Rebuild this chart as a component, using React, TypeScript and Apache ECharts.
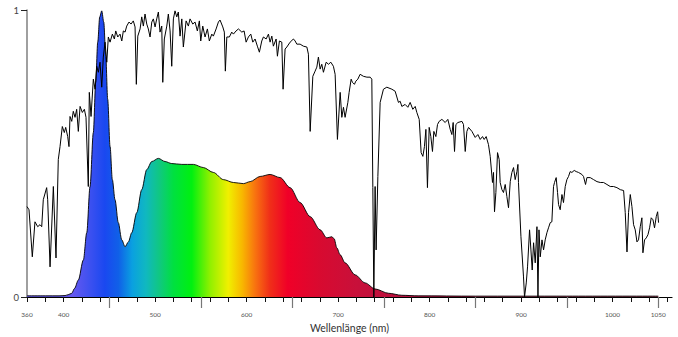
import React, { useEffect, useRef } from "react";
import * as echarts from "echarts";

// x-axis tick positions (nm)
const xLabelValues = [360, 400, 500, 600, 700, 800, 900, 1000, 1050];
const xMinorTicks = [360, 380, 400, 420, 440, 460, 480, 500, 520, 540, 560, 580, 600, 620, 640, 660, 680, 700, 720, 740, 760, 780, 800, 820, 840, 860, 880, 900, 920, 940, 960, 980, 1000, 1020, 1040, 1060];
const xMajorTicks = [450, 550, 650, 750, 850, 950, 1050];

// Solar spectrum (relative intensity), [wavelength nm, value]
const solarSpectrum: [number, number][] = [
  [360,0.315],[362.2,0.304],[365.8,0.14],[368.7,0.262],[371.7,0.245],[374.2,0.252],[376.1,0.245],[377.8,0.339],[381.5,0.381],[382.6,0.339],[385.2,0.105],[388.8,0.385],[391.7,0.136],[394.2,0.479],[396.1,0.524],[398.6,0.594],[400.8,0.573],[402.3,0.591],[404.5,0.559],[405.9,0.524],[407,0.629],[408.9,0.612],[410.6,0.647],[412.5,0.626],[414.3,0.654],[416.1,0.577],[418,0.664],[420.5,0.643],[422.7,0.654],[424.5,0.626],[427,0.385],[428.1,0.713],[430,0.629],[432.5,0.759],[434.4,0.724],[436.2,0.804],[438,0.783],[439.8,0.818],[441.7,0.731],[443.4,0.836],[445.3,0.888],[447.2,0.818],[448.9,0.906],[450.8,0.888],[453.3,0.916],[455.5,0.899],[457,0.927],[459.2,0.906],[461.7,0.916],[463.6,0.892],[465.3,0.927],[467.2,0.923],[469,0.944],[471.5,0.958],[473.7,0.951],[476.2,0.962],[478.1,0.941],[479.5,0.741],[481.1,0.909],[483.6,0.934],[485.4,0.976],[487.2,0.944],[489,0.986],[490.9,0.951],[492.6,0.934],[494.5,0.906],[496.4,0.958],[498.1,0.969],[500,0.941],[501.8,0.969],[503.6,0.993],[505.4,0.923],[507.3,0.944],[508.4,0.748],[510.1,0.899],[512.8,0.944],[514.5,0.986],[516.4,0.927],[518.2,0.804],[520,0.969],[521.8,0.997],[523.7,0.976],[525.4,0.993],[527.3,0.909],[529.2,0.969],[530.9,0.871],[533.9,0.962],[536.4,0.944],[538.2,0.969],[541.2,0.951],[543.7,0.958],[546.2,0.927],[548.4,0.962],[549.9,0.892],[552.1,0.944],[554.6,0.906],[557.2,0.934],[559.3,0.892],[562,0.916],[563.7,0.909],[566.7,0.934],[569.2,0.958],[571,0.965],[574,0.941],[575.7,0.923],[576.8,0.787],[578.4,0.906],[581.2,0.906],[583.8,0.923],[585.6,0.916],[588.5,0.927],[591.1,0.934],[594.8,0.923],[597.3,0.927],[599.5,0.888],[602,0.906],[604.6,0.916],[606.8,0.888],[609.3,0.899],[611.8,0.874],[614,0.853],[616.6,0.892],[618.4,0.906],[621.4,0.899],[623.9,0.916],[625.7,0.888],[627.6,0.909],[629.3,0.874],[632.3,0.899],[633.7,0.839],[635.9,0.892],[638.5,0.888],[639.9,0.724],[642.1,0.864],[644,0.871],[647.6,0.888],[651.2,0.899],[653.1,0.892],[654.9,0.881],[658.5,0.881],[662.1,0.874],[665.9,0.871],[667.6,0.846],[669.5,0.577],[672.4,0.769],[674.9,0.787],[676.8,0.801],[678.5,0.836],[680.4,0.794],[682.2,0.811],[684,0.783],[687,0.818],[689.5,0.811],[692.1,0.818],[694.9,0.804],[696.8,0.776],[699.3,0.549],[702.3,0.713],[704.1,0.626],[705.9,0.661],[707.7,0.626],[710.7,0.678],[712.1,0.713],[714.3,0.759],[715.7,0.748],[717.9,0.741],[719.4,0.752],[721.6,0.759],[724.1,0.776],[727.7,0.769],[731.5,0.766],[735.1,0.766],[736.9,0.759],[738,0.381],[739.1,0],[740.5,0.385],[741.6,0.164],[743.5,0.42],[746,0.678],[749.6,0.724],[753.3,0.731],[758.8,0.724],[762.4,0.717],[766,0.678],[767.9,0.682],[769.7,0.664],[773.3,0.671],[776.3,0.661],[778.8,0.678],[781.7,0.654],[784.3,0.664],[786.1,0.643],[788.7,0.619],[790.8,0.503],[792.7,0.49],[794.4,0.524],[796,0.584],[797.7,0.381],[799.6,0.591],[801.4,0.559],[803.2,0.507],[804.7,0.577],[806.9,0.559],[808.7,0.601],[810.5,0.612],[813.5,0.619],[817.1,0.608],[820,0.619],[822.6,0.584],[824.4,0.566],[825.8,0.608],[827.3,0.507],[828.8,0.601],[831,0.608],[835.4,0.612],[837.1,0.601],[839,0.507],[840.8,0.577],[842.6,0.591],[846.3,0.577],[849.9,0.556],[852.8,0.566],[855.4,0.549],[857.9,0.559],[859.7,0.549],[861.9,0.559],[864.4,0.531],[866.3,0.49],[868.8,0.399],[869.9,0.434],[871,0.297],[872.5,0.364],[874.3,0.503],[876.1,0.479],[877.2,0.399],[879.1,0.374],[880.8,0.364],[882.7,0.392],[884.5,0.35],[886.3,0.311],[888.2,0.402],[890,0.434],[891.8,0.451],[893.6,0.409],[895.5,0.437],[896.6,0.462],[897.2,0.399],[899.9,0.21],[902.7,0.07],[903.8,0],[905.7,0.049],[907.1,0.105],[909.3,0.234],[910.8,0.164],[912.2,0.094],[913.7,0.189],[915.5,0.119],[917.4,0.245],[918.5,0],[919.6,0.234],[921,0.14],[922.9,0.199],[924.6,0.164],[926.4,0.199],[928.3,0.224],[930,0.241],[931.9,0.259],[933.7,0.262],[935.5,0.385],[936.6,0.399],[938.4,0.416],[939.9,0.364],[941,0.322],[942.8,0.304],[944.7,0.357],[946.4,0.329],[948.3,0.385],[950.1,0.409],[951.9,0.42],[953.7,0.437],[955.6,0.434],[958.1,0.441],[960.3,0.437],[962.8,0.434],[966.5,0.427],[968.3,0.42],[970.5,0.392],[972,0.416],[975.6,0.416],[979.3,0.409],[983,0.402],[986.6,0.399],[990.2,0.399],[993.9,0.392],[997.5,0.385],[1001.1,0.385],[1004.8,0.381],[1008.5,0.374],[1012.1,0.371],[1013.9,0.294],[1015.8,0.157],[1017.5,0.294],[1019.4,0.357],[1021.2,0.315],[1023,0.252],[1024.8,0.234],[1026.7,0.192],[1028.4,0.199],[1030.3,0.245],[1032.1,0.276],[1033.2,0.154],[1035,0.199],[1036.9,0.206],[1038.7,0.217],[1040.5,0.241],[1042.3,0.276],[1044.2,0.269],[1045.9,0.241],[1047.8,0.28],[1049.3,0.297],[1050.3,0.259]
];

// LED spectrum (relative intensity), [wavelength nm, value]
const ledSpectrum: [number, number][] = [
  [360,0.004],[380,0.004],[395,0.004],[401.6,0.005],[405,0.008],[408.9,0.013],[412,0.03],[416.1,0.059],[421.6,0.129],[425.3,0.224],[428.9,0.385],[432.5,0.573],[435.1,0.748],[437.3,0.888],[439.5,0.976],[441.7,0.997],[443.9,0.958],[446.1,0.839],[448.2,0.689],[450.8,0.524],[453.3,0.409],[456.2,0.339],[459.8,0.259],[463.6,0.199],[467.2,0.175],[470.8,0.192],[474.5,0.224],[480,0.294],[485.4,0.374],[490.9,0.444],[496.4,0.472],[503.6,0.483],[510.9,0.472],[518.2,0.465],[529.2,0.462],[541.9,0.462],[552.8,0.451],[563.7,0.434],[574.7,0.409],[585.6,0.399],[596.5,0.395],[603.9,0.402],[614.8,0.42],[625.7,0.427],[636.7,0.416],[647.6,0.381],[658.5,0.329],[669.5,0.28],[680.4,0.234],[687.7,0.206],[693.2,0.21],[695.7,0.203],[698.7,0.171],[702.3,0.147],[707.7,0.119],[718.7,0.077],[729.6,0.049],[740.5,0.028],[755.1,0.013],[769.7,0.006],[787.5,0.004],[850,0.003],[950,0.003],[1050,0.003]
];

// spectral colour stops for the LED fill: [wavelength nm, colour]
const spectrumStops: [number, string][] = [
  [360, "#6a5cf0"], [410, "#6458f0"], [430, "#3a50f0"], [445, "#1a48f0"], [460, "#1060e8"],
  [475, "#0aa0e0"], [490, "#10b8c0"], [505, "#10c880"], [520, "#00e040"], [540, "#00f010"],
  [560, "#90f000"], [580, "#f0f000"], [595, "#f8b800"], [610, "#f87010"], [625, "#f03018"],
  [645, "#f00028"], [680, "#d80a30"], [720, "#c8103a"], [800, "#b01040"], [1050, "#901838"]
];

const FONT = "Lato, 'Open Sans', sans-serif";

export default function App() {
  const ref = useRef<HTMLDivElement>(null);
  useEffect(() => {
    document.body.style.margin = "0";
    if (!ref.current) return;
    const chart = echarts.init(ref.current, null, { renderer: "svg" });
    const first = ledSpectrum[0][0];
    const last = ledSpectrum[ledSpectrum.length - 1][0];
    const gradient = new echarts.graphic.LinearGradient(
      0, 0, 1, 0,
      spectrumStops.map(([nm, c]) => ({ offset: Math.min(1, Math.max(0, (nm - first) / (last - first))), color: c }))
    );
    chart.setOption({
      animation: false,
      grid: { left: 27, right: 6, top: 10, bottom: 40, containLabel: false, outerBoundsMode: "none" },
      xAxis: [
        {
          type: "value", min: 360, max: 1065, position: "bottom",
          axisLine: { show: true, onZero: false, lineStyle: { color: "#000", width: 1.2 } },
          axisTick: { show: true, customValues: xMinorTicks, length: 5, lineStyle: { color: "#111", width: 1 } },
          axisLabel: { customValues: xLabelValues, fontSize: 6.5, color: "#555", margin: 14, fontFamily: FONT, formatter: (v: number) => String(v) },
          splitLine: { show: false },
          name: "Wellenlänge (nm)", nameLocation: "middle", nameGap: 24,
          nameTextStyle: { fontSize: 10.5, color: "#333", fontFamily: FONT },
        },
        {
          type: "value", min: 360, max: 1065, position: "bottom",
          axisLine: { show: false },
          axisTick: { show: true, customValues: xMajorTicks, length: 11, lineStyle: { color: "#777", width: 1.2 } },
          axisLabel: { show: false },
          splitLine: { show: false },
        },
      ],
      yAxis: {
        type: "value", min: 0, max: 1, interval: 1,
        axisLine: { show: true, lineStyle: { color: "#888", width: 1.6 } },
        axisTick: { show: true, length: 6, lineStyle: { color: "#222" } },
        axisLabel: { fontSize: 9.5, color: "#444", margin: 8, fontFamily: FONT },
        splitLine: { show: false },
      },
      series: [
        {
          type: "line", xAxisIndex: 0, data: ledSpectrum, symbol: "none",
          smooth: 0.3, smoothMonotone: "x",
          lineStyle: { color: "#000", width: 0.9 },
          areaStyle: { color: gradient, opacity: 1 },
          z: 2,
        },
        {
          type: "line", xAxisIndex: 0, data: solarSpectrum, symbol: "none",
          lineStyle: { color: "#000", width: 1 },
          z: 3,
        },
      ],
    });
    return () => chart.dispose();
  }, []);
  return <div ref={ref} style={{ width: 678, height: 337 }} />;
}
